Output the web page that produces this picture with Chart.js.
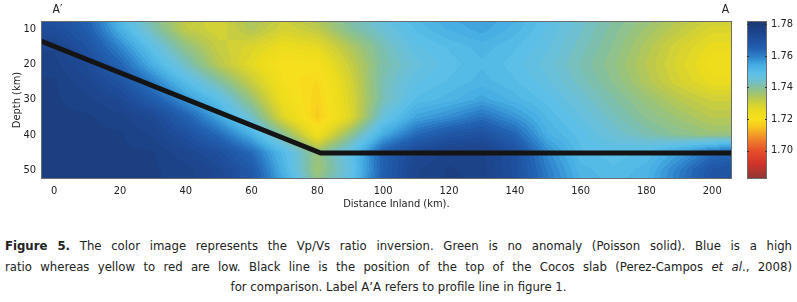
<!DOCTYPE html>
<html>
<head>
<meta charset="utf-8">
<script src="https://cdn.jsdelivr.net/npm/chart.js@4.4.1/dist/chart.umd.min.js"></script>
<style>
  body { margin: 0; background: #fff; }
  #wrap { position: relative; width: 797px; height: 222px; }
  #caption {
    position: absolute; left: 5px; top: 236px; width: 787px;
    font-family: 'DejaVu Sans Condensed', 'DejaVu Sans', sans-serif; font-size: 13px;
    line-height: 20.5px; color: #222;
  }
  #caption .j { text-align: justify; text-align-last: justify; white-space: nowrap; }
  #caption .c { text-align: center; }
</style>
</head>
<body>
<div id="wrap"><canvas id="grafVpVs"></canvas></div>
<div id="caption">
  <div class="j"><b>Figure 5.</b> The color image represents the Vp/Vs ratio inversion. Green is no anomaly (Poisson solid). Blue is a high</div>
  <div class="j">ratio whereas yellow to red are low. Black line is the position of the top of the Cocos slab (Perez-Campos <i>et al</i>., 2008)</div>
  <div class="c">for comparison. Label A’A refers to profile line in figure 1.</div>
</div>
<script>
// grid nodes (km)
const distancia = [0, 10, 20, 30, 40, 50, 60, 70, 80, 90, 100, 110, 120, 130, 140, 150, 160, 170, 180, 190, 200, 210];
const profundidad = [5, 10, 15, 20, 25, 30, 35, 40, 45, 50, 55];

// Vp/Vs, one row per depth
const vpvs05 = [1.770, 1.763, 1.750, 1.739, 1.731, 1.729, 1.735, 1.731, 1.736, 1.742, 1.748, 1.752, 1.755, 1.756, 1.754, 1.749, 1.745, 1.741, 1.738, 1.734, 1.732, 1.732];
const vpvs10 = [1.771, 1.766, 1.753, 1.742, 1.732, 1.729, 1.734, 1.729, 1.732, 1.740, 1.745, 1.750, 1.753, 1.755, 1.752, 1.748, 1.744, 1.740, 1.736, 1.732, 1.728, 1.728];
const vpvs15 = [1.775, 1.769, 1.759, 1.748, 1.738, 1.731, 1.728, 1.724, 1.726, 1.734, 1.742, 1.748, 1.750, 1.752, 1.750, 1.747, 1.743, 1.739, 1.734, 1.729, 1.725, 1.725];
const vpvs20 = [1.776, 1.772, 1.764, 1.753, 1.743, 1.733, 1.726, 1.720, 1.721, 1.731, 1.741, 1.746, 1.749, 1.751, 1.749, 1.746, 1.742, 1.738, 1.733, 1.728, 1.723, 1.723];
const vpvs25 = [1.777, 1.774, 1.769, 1.760, 1.750, 1.741, 1.731, 1.721, 1.718, 1.729, 1.742, 1.748, 1.750, 1.752, 1.750, 1.747, 1.743, 1.739, 1.734, 1.729, 1.725, 1.725];
const vpvs30 = [1.777, 1.776, 1.773, 1.766, 1.757, 1.749, 1.737, 1.723, 1.717, 1.728, 1.742, 1.750, 1.752, 1.755, 1.752, 1.749, 1.745, 1.741, 1.737, 1.733, 1.730, 1.730];
const vpvs35 = [1.777, 1.777, 1.776, 1.773, 1.765, 1.755, 1.744, 1.727, 1.716, 1.727, 1.746, 1.755, 1.758, 1.762, 1.757, 1.751, 1.747, 1.743, 1.739, 1.736, 1.733, 1.733];
const vpvs40 = [1.777, 1.777, 1.777, 1.775, 1.770, 1.763, 1.753, 1.739, 1.723, 1.738, 1.754, 1.763, 1.768, 1.770, 1.764, 1.753, 1.749, 1.745, 1.742, 1.739, 1.737, 1.737];
const vpvs45 = [1.777, 1.777, 1.777, 1.777, 1.774, 1.770, 1.763, 1.750, 1.737, 1.748, 1.765, 1.773, 1.776, 1.776, 1.770, 1.758, 1.750, 1.749, 1.750, 1.755, 1.762, 1.765];
const vpvs50 = [1.777, 1.777, 1.777, 1.777, 1.776, 1.773, 1.767, 1.752, 1.736, 1.747, 1.765, 1.775, 1.777, 1.776, 1.770, 1.760, 1.752, 1.750, 1.752, 1.760, 1.768, 1.770];
const vpvs55 = [1.777, 1.777, 1.777, 1.777, 1.776, 1.774, 1.768, 1.755, 1.740, 1.749, 1.766, 1.775, 1.777, 1.777, 1.771, 1.761, 1.753, 1.751, 1.753, 1.761, 1.769, 1.771];
const filas = [vpvs05, vpvs10, vpvs15, vpvs20, vpvs25, vpvs30, vpvs35, vpvs40, vpvs45, vpvs50, vpvs55];

// top of the Cocos slab
const slabDist = [-4, 81, 206];
const slabProf = [13.4, 45.2, 45.2];

// ticks
const ticksDist = [0, 20, 40, 60, 80, 100, 120, 140, 160, 180, 200];
const ticksProf = [10, 20, 30, 40, 50];
const ticksRatio = [1.70, 1.72, 1.74, 1.76, 1.78];

// colormap
const cmapVal = [1.682, 1.692, 1.700, 1.706, 1.711, 1.716, 1.720, 1.725, 1.729, 1.733, 1.737, 1.741, 1.745, 1.749, 1.754, 1.759, 1.764, 1.770, 1.776, 1.782];
const cmapCol = ['#8c3636', '#d2342a', '#e5502a', '#ee7a2a', '#f3a426', '#f8cc1e', '#f7e01c', '#eadb1e', '#d6d232', '#b8c850',
                 '#98c37c', '#7fbfa8', '#6cc0d6', '#5bbfe8', '#45ade2', '#2f85cb', '#2363b3', '#1f509f', '#1c4288', '#1b3770'];
const cmapRgb = cmapCol.map(h => [1, 3, 5].map(i => parseInt(h.substr(i, 2), 16)));

function colorDe(v) {
    if (v <= cmapVal[0]) return cmapRgb[0];
    for (let k = 1; k < cmapVal.length; k++) {
        if (v <= cmapVal[k]) {
            const t = (v - cmapVal[k - 1]) / (cmapVal[k] - cmapVal[k - 1]);
            return cmapRgb[k].map((c, i) => cmapRgb[k - 1][i] + (c - cmapRgb[k - 1][i]) * t);
        }
    }
    return cmapRgb[cmapRgb.length - 1];
}

function indice(arr, v) {
    if (v <= arr[0]) return [0, 0];
    for (let k = 1; k < arr.length; k++) {
        if (v <= arr[k]) return [k - 1, (v - arr[k - 1]) / (arr[k] - arr[k - 1])];
    }
    return [arr.length - 2, 1];
}

function valorEn(km, prof) {
    const [i, tx] = indice(distancia, km);
    const [j, ty] = indice(profundidad, prof);
    const a = filas[j][i], b = filas[j][i + 1], c = filas[j + 1][i], d = filas[j + 1][i + 1];
    return (a * (1 - tx) + b * tx) * (1 - ty) + (c * (1 - tx) + d * tx) * ty;
}

const mapaCalor = {
    id: 'mapaCalor',
    beforeDatasetsDraw(chart) {
        const { ctx, chartArea: a, scales: { x, y } } = chart;
        const w = Math.round(a.right - a.left), h = Math.round(a.bottom - a.top);
        const off = document.createElement('canvas');
        off.width = w; off.height = h;
        const octx = off.getContext('2d');
        const img = octx.createImageData(w, h);
        for (let j = 0; j < h; j++) {
            const prof = y.getValueForPixel(a.top + j + 0.5);
            for (let i = 0; i < w; i++) {
                const km = x.getValueForPixel(a.left + i + 0.5);
                let v = valorEn(km, prof);
                v = Math.round(v / 0.0015) * 0.0015;
                const c = colorDe(v);
                const p = (j * w + i) * 4;
                img.data[p] = c[0]; img.data[p + 1] = c[1]; img.data[p + 2] = c[2]; img.data[p + 3] = 255;
            }
        }
        octx.putImageData(img, 0, 0);
        ctx.drawImage(off, a.left, a.top);
    },
    afterDraw(chart) {
        const { ctx, chartArea: a, scales: { x, cb } } = chart;
        ctx.save();
        ctx.strokeStyle = '#6b6b6b';
        ctx.lineWidth = 1;
        ctx.strokeRect(a.left + 0.5, a.top + 0.5, a.right - a.left - 1, a.bottom - a.top - 1);

        // colorbar
        const x0 = a.right + 15, x1 = a.right + 35;
        for (let py = Math.floor(cb.top); py < cb.bottom; py++) {
            const c = colorDe(cb.getValueForPixel(py + 0.5));
            ctx.fillStyle = `rgb(${c[0]},${c[1]},${c[2]})`;
            ctx.fillRect(x0, py, x1 - x0, 1);
        }
        ctx.strokeRect(x0 + 0.5, cb.top + 0.5, x1 - x0 - 1, cb.bottom - cb.top - 1);
        ctx.strokeStyle = '#333';
        ticksRatio.forEach(v => {
            const py = Math.round(cb.getPixelForValue(v)) + 0.5;
            ctx.beginPath();
            ctx.moveTo(x0, py); ctx.lineTo(x0 + 2, py);
            ctx.moveTo(x1 - 2, py); ctx.lineTo(x1, py);
            ctx.stroke();
        });

        ctx.fillStyle = '#222';
        ctx.font = "12px 'DejaVu Sans Condensed', 'DejaVu Sans', sans-serif";
        ctx.textAlign = 'center';
        ctx.textBaseline = 'middle';
        ctx.fillText('A′', x.getPixelForValue(1), 10);
        ctx.fillText('A', x.getPixelForValue(204), 10);
        ctx.restore();
    }
};

Chart.defaults.font.family = "'DejaVu Sans Condensed', 'DejaVu Sans', sans-serif";
Chart.defaults.font.size = 11;
Chart.defaults.color = '#222';

const data = {
    datasets: [{
        type: 'line',
        label: 'Slab',
        data: slabDist.map((d, i) => ({ x: d, y: slabProf[i] })),
        borderColor: '#141414',
        borderWidth: 5,
        pointRadius: 0,
        tension: 0
    }]
};

const config = {
    type: 'scatter',
    data: data,
    options: {
        responsive: true,
        maintainAspectRatio: false,
        animation: false,
        layout: { padding: { top: 21 } },
        plugins: { legend: { display: false }, tooltip: { enabled: false } },
        scales: {
            x: {
                type: 'linear',
                min: -4, max: 206,
                grid: { display: false, drawTicks: false },
                border: { display: false },
                ticks: { padding: 6, includeBounds: false },
                afterBuildTicks: s => { s.ticks = ticksDist.map(v => ({ value: v })); },
                afterFit: s => { s.height = 43; },
                title: { display: true, text: '\u2003\u2003Distance Inland (km).', padding: { top: 0, bottom: 11 } }
            },
            y: {
                type: 'linear',
                reverse: true,
                min: 7.7, max: 52.6,
                grid: { display: false, drawTicks: false },
                border: { display: false },
                ticks: { padding: 5, includeBounds: false },
                afterBuildTicks: s => { s.ticks = ticksProf.map(v => ({ value: v })); },
                afterFit: s => { s.width = 41; },
                title: { display: true, text: 'Depth (km)', padding: { top: 11, bottom: 0 } }
            },
            cb: {
                type: 'linear',
                axis: 'y',
                position: 'right',
                min: 1.682, max: 1.782,
                grid: { drawOnChartArea: false, color: 'rgba(0,0,0,0)', tickLength: 36 },
                border: { display: false },
                ticks: { padding: 3, includeBounds: false, callback: v => v.toFixed(2) },
                afterBuildTicks: s => { s.ticks = ticksRatio.map(v => ({ value: v })); },
                afterFit: s => { s.width = 65; }
            }
        }
    },
    plugins: [mapaCalor]
};

const ctx = document.getElementById('grafVpVs').getContext('2d');
window.graficaVpVs = new Chart(ctx, config);
</script>
</body>
</html>
